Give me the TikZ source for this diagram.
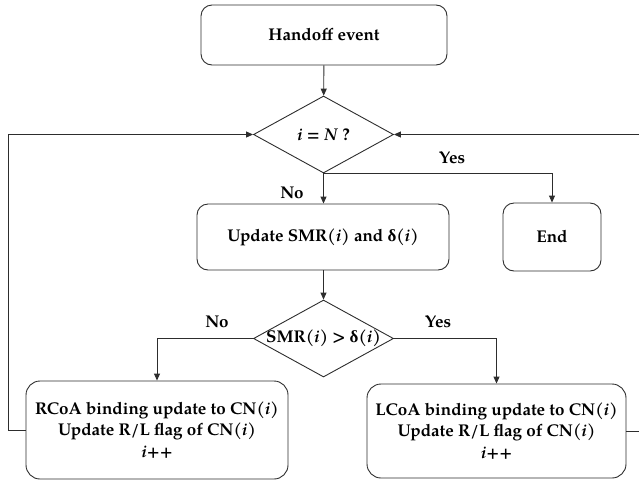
\documentclass[tikz,border=0pt]{standalone}
\usepackage{fontspec}
\setmainfont{TeX Gyre Pagella}
\newfontfamily\grk{Liberation Serif}
\usetikzlibrary{shapes.geometric,arrows.meta}
\definecolor{linec}{RGB}{45,45,45}
\newcommand{\dlt}{{\grk\bfseries δ}}
\tikzset{
  flow/.style={draw=linec, line width=0.9pt},
  procbox/.style={flow, rounded corners=11pt, inner sep=0pt, align=center,
    font=\fontsize{17}{21.5}\selectfont\bfseries},
  decision/.style={flow, diamond, inner sep=0pt, minimum width=140pt, minimum height=77pt,
    font=\fontsize{17}{19}\selectfont\bfseries},
  lbl/.style={inner sep=0pt, font=\fontsize{17}{19}\selectfont\bfseries},
  arr/.style={flow, -{Triangle[length=7pt,width=6pt]}}
}
\begin{document}
\begin{tikzpicture}[x=1pt,y=-1pt]
\useasboundingbox (0,0) rectangle (639,480);

% process boxes
\node[procbox, minimum width=246pt, minimum height=60pt] (handoff) at (324,35) {Handoff event};
\node[procbox, minimum width=252pt, minimum height=66pt] (update) at (323,237) {Update SMR\textit{(i)} and \dlt(\textit{i})};
\node[procbox, minimum width=98pt, minimum height=68pt] (end) at (552,237) {End};
\node[procbox, rounded corners=14pt, minimum width=262pt, minimum height=98pt] (lbox) at (157,430)
  {RCoA binding update to CN(\textit{i})\\Update R/L flag of CN(\textit{i})\\\textit{i}++};
\node[procbox, rounded corners=14pt, minimum width=259pt, minimum height=94pt] (rbox) at (496.5,431)
  {LCoA binding update to CN(\textit{i})\\Update R/L flag of CN(\textit{i})\\\textit{i}++};

% decisions
\node[decision] (d1) at (323.5,134.5) {\makebox[0pt]{\textit{i} = \textit{N} ?}};
\node[decision] (d2) at (323.5,338.5) {\makebox[0pt]{SMR\textit{(i)} > \dlt(\textit{i})}};

% return lines on both sides
\coordinate (lloop) at (8,0);
\coordinate (rloop) at (640,0);

% connectors
\draw[arr] (handoff) -- (d1);
\draw[arr] (d1.south) -- (d1.south |- update.north);
\draw[arr] (d1.south) -| (end.north);
\draw[arr] (update.south -| d2.north) -- (d2.north);
\draw[arr] (d2.west) -| (lbox.north);
\draw[arr] (d2.east) -| (rbox.north);
\draw[arr] (lbox.west) -- (lbox.west -| lloop) |- (d1.west);
\draw[arr] (rbox.east) -- (rbox.east -| rloop) |- (d1.east);

% branch labels
\node[lbl] (yes1) at (452,158) {Yes};
\node[lbl] (no1) at (292,193) {No};
\node[lbl] (no2) at (217,322) {No};
\node[lbl] (yes2) at (438,322) {Yes};
\end{tikzpicture}
\end{document}
